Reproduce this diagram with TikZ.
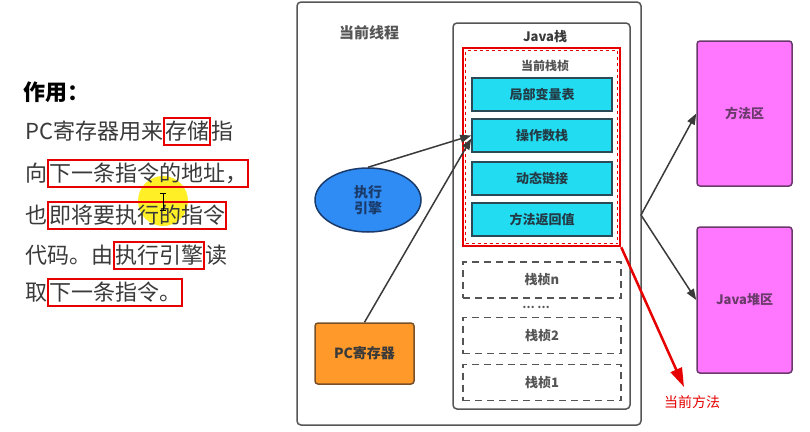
\documentclass[tikz,border=0pt]{standalone}
\usepackage{fontspec}
\setmainfont{Noto Sans CJK SC}
\usetikzlibrary{arrows.meta,shapes.geometric}
\definecolor{frameg}{HTML}{555555}
\definecolor{cyanf}{HTML}{22DDF2}
\definecolor{cyanb}{HTML}{2A4A58}
\definecolor{bluef}{HTML}{2F8CF5}
\definecolor{blueb}{HTML}{1A3A6A}
\definecolor{orangef}{HTML}{FF9A2A}
\definecolor{orangeb}{HTML}{7A5028}
\definecolor{magf}{HTML}{FF77FF}
\definecolor{magb}{HTML}{6A3A6A}
\definecolor{redm}{HTML}{E60000}
\definecolor{txtg}{HTML}{3A3A3A}
\tikzset{
  container/.style={draw=frameg, line width=1.5pt, rounded corners=4pt},
  cell/.style={draw=cyanb, fill=cyanf, line width=1.5pt, minimum width=140pt, minimum height=33pt, font=\bfseries\fontsize{13}{13}\selectfont, text=cyanb!80!black},
  dframe/.style={draw=frameg, dashed, dash pattern=on 7pt off 5pt, line width=1.5pt, minimum width=158pt, minimum height=36pt, font=\bfseries\fontsize{13}{13}\selectfont, text=frameg},
  area/.style={draw=magb, fill=magf, line width=1.5pt, rounded corners=3pt, minimum width=95pt, minimum height=145pt, font=\bfseries\fontsize{13}{13}\selectfont, text=magb},
  conn/.style={draw=txtg, line width=1.5pt, -{Triangle[length=11pt,width=8pt]}},
  txt/.style={inner sep=0pt, anchor=base west, text=txtg, font=\fontsize{22}{22}\selectfont},
  hl/.style={txt, draw=redm, line width=1.5pt, inner xsep=1pt, inner ysep=2pt, text height=19pt, text depth=4pt},
}
\begin{document}
\begin{tikzpicture}[x=1pt,y=-1pt]
\useasboundingbox[fill=white] (0,0) rectangle (810,431);

% ---------- left text ----------
\fill[yellow!95!orange, opacity=0.85] (163,201) circle (25);
\node[inner sep=0pt, anchor=base west, font=\bfseries\fontsize{22}{22}\selectfont] (title) at (23,100) {作用：};

\node[txt] (a1) at (25,139) {PC寄存器用来};
\node[hl] (a2) at (a1.base east) {存储};
\node[txt] (a3) at (a2.base east) {指};

\node[txt] (b1) at (25,181) {向};
\node[hl] (b2) at (b1.base east) {下一条指令的地址，};

\node[txt] (c1) at (25,223) {也};
\node[hl] (c2) at (c1.base east) {即将要执行的指令};

\node[txt] (d1) at (25,263) {代码。由};
\node[hl] (d2) at (d1.base east) {执行引擎};
\node[txt] (d3) at (d2.base east) {读};

\node[txt] (e1) at (25,300) {取};
\node[hl] (e2) at (e1.base east) {下一条指令。};

% I-beam cursor
\draw[black, line width=1pt] (160,193) -- (166,193) (163,193) -- (163,210) (160,210) -- (166,210);

% ---------- thread ----------
\draw[container] (297,2) rectangle (641,425);
\node[coordinate] (threadE) at (641,215) {};
\node[font=\bfseries\fontsize{15}{15}\selectfont, text=frameg] (tname) at (369,33) {当前线程};

\draw[container] (453,23) rectangle (630,409);
\node[font=\bfseries\fontsize{13}{13}\selectfont, text=txtg] (jname) at (545,37) {Java栈};

\node[font=\bfseries\fontsize{12}{12}\selectfont, text=frameg] (fname) at (545,66) {当前栈桢};
\node[cell] (lv) at (542,94.5) {局部变量表};
\node[cell] (op) at (542,135.5) {操作数栈};
\node[cell] (dl) at (542,178.5) {动态链接};
\node[cell] (rv) at (542,219.5) {方法返回值};
\node[draw=redm, dashed, line width=1.5pt, minimum width=152pt, minimum height=193pt] (curd) at (541.5,147) {};
\node[draw=redm, line width=2.5pt, minimum width=157pt, minimum height=198pt] (cur) at (541.5,147) {};

\node[dframe] (fn) at (542,280) {栈桢n};
\node[font=\bfseries\fontsize{11}{11}\selectfont, text=frameg] (dots) at (536,307) {… …};
\node[dframe] (f2) at (542,335.5) {栈桢2};
\node[dframe] (f1) at (542,382.5) {栈桢1};

\node[ellipse, draw=blueb, fill=bluef, line width=1.5pt, minimum width=106pt, minimum height=64pt, align=center, font=\bfseries\fontsize{14}{16}\selectfont, text=blueb] (eng) at (368,200) {执行\\引擎};
\node[draw=orangeb, fill=orangef, line width=1.5pt, rounded corners=3pt, minimum width=99pt, minimum height=61pt, font=\bfseries\fontsize{14}{14}\selectfont, text=txtg] (pc) at (364.5,353.5) {PC寄存器};

\draw[conn] (eng.north) -- (op.west);
\draw[conn] (pc.north) -- ([yshift=-3pt]op.west);

% ---------- right ----------
\node[area] (meth) at (744.5,113.5) {方法区};
\node[area, minimum height=146pt] (heap) at (744.5,300) {Java堆区};
\draw[conn] (threadE) -- (meth.west);
\draw[conn] (threadE) -- (heap.west);

% ---------- current method ----------
\node[text=redm, font=\fontsize{14}{14}\selectfont] (cm) at (692,402) {当前方法};
\coordinate (tip) at (684,387);
\draw[redm, line width=2.5pt, -{Triangle[length=19pt,width=12pt]}] (cur.south east) -- (tip);
\end{tikzpicture}
\end{document}
